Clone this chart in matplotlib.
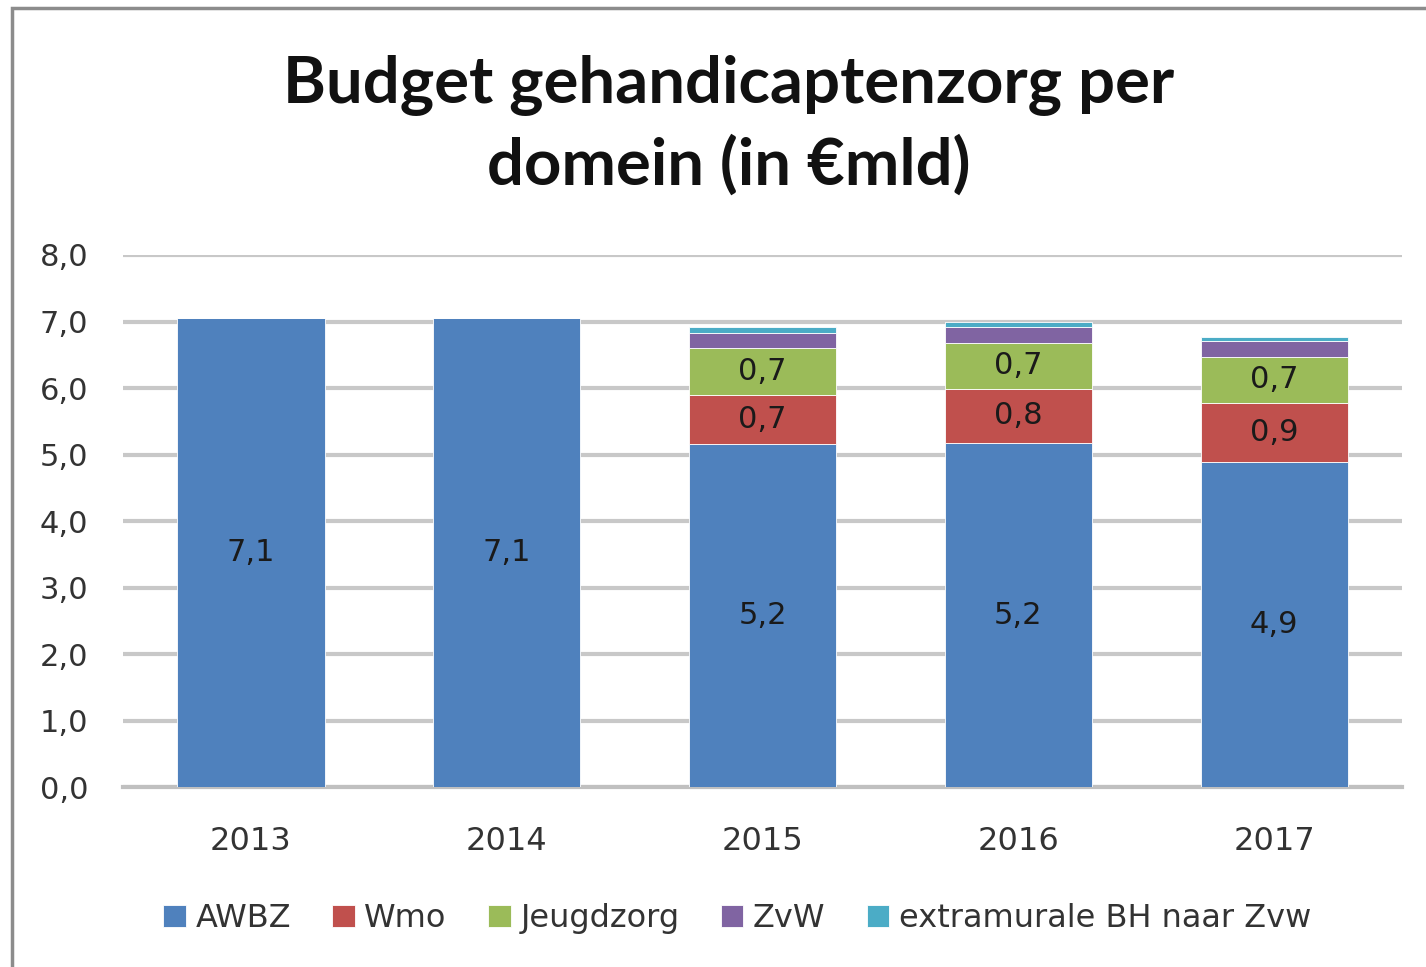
import numpy as np
import matplotlib
matplotlib.use('agg')
import matplotlib.pyplot as plt
from matplotlib.patches import Rectangle

years = ['2013', '2014', '2015', '2016', '2017']
awbz = [7.06, 7.06, 5.16, 5.17, 4.89]
wmo = [0.0, 0.0, 0.73, 0.82, 0.89]
jeugdzorg = [0.0, 0.0, 0.71, 0.69, 0.69]
zvw = [0.0, 0.0, 0.22, 0.23, 0.23]
extramuraal = [0.0, 0.0, 0.09, 0.08, 0.07]

series = ['AWBZ', 'Wmo', 'Jeugdzorg', 'ZvW', 'extramurale BH naar Zvw']
colors = ['#4F81BD', '#C0504D', '#9BBB59', '#8064A2', '#4BACC6']
labeled = [True, True, True, False, False]

plt.rcParams['font.family'] = ['DejaVu Sans']

fig = plt.figure(figsize=(14.26, 9.67), dpi=100)
ax = fig.add_axes([0.0863, 0.1861, 0.8969, 0.5502])

# outer chart border (only left and top visible in the crop)
fig.patches.append(Rectangle((12 / 1426, -0.1), 1.2, 1 - 8 / 967 + 0.1,
                             transform=fig.transFigure, fill=False,
                             edgecolor='#8c8c8c', linewidth=2.5))

x = np.arange(len(years))
width = 0.575
bottom = np.zeros(len(years))
data = [awbz, wmo, jeugdzorg, zvw, extramuraal]
for name, vals, col, lab in zip(series, data, colors, labeled):
    vals = np.array(vals)
    bars = ax.bar(x, vals, width, bottom=bottom, color=col, label=name,
                  edgecolor='white', linewidth=0.6, zorder=3)
    if lab:
        for xi, v, b in zip(x, vals, bottom):
            if v > 0:
                ax.text(xi, b + v / 2, f'{v:.1f}'.replace('.', ','),
                        ha='center', va='center', fontsize=22,
                        color='#1a1a1a', zorder=4)
    bottom += vals

ax.set_xlim(-0.5, 4.5)
ax.set_ylim(0, 8)
ax.set_yticks(np.arange(0, 9, 1))
ax.set_yticklabels([f'{v:.1f}'.replace('.', ',') for v in range(9)])
ax.set_xticks(x, years)
ax.grid(axis='y', color='#c8c8c8', linewidth=3, zorder=0)
for s in ['top', 'right', 'left']:
    ax.spines[s].set_visible(False)
ax.spines['bottom'].set_color('#c0c0c0')
ax.spines['bottom'].set_linewidth(3)
ax.tick_params(axis='y', length=0, pad=25, labelsize=22, labelcolor='#333333')
ax.tick_params(axis='x', length=0, pad=28, labelsize=23, labelcolor='#333333')

fig.text(0.511, 0.912, 'Budget gehandicaptenzorg per', ha='center', va='center',
         fontsize=47, fontweight='bold', family='Lato', color='#111111')
fig.text(0.511, 0.829, 'domein (in €mld)', ha='center', va='center',
         fontsize=47, fontweight='bold', family='Lato', color='#111111')

leg = fig.legend(loc='center', bbox_to_anchor=(0.517, 0.050), ncol=5,
                 frameon=False, fontsize=23, handlelength=0.7,
                 handleheight=0.7, handletextpad=0.3, columnspacing=1.3)
for t in leg.get_texts():
    t.set_color('#333333')

fig.savefig('out.png', dpi=100)
